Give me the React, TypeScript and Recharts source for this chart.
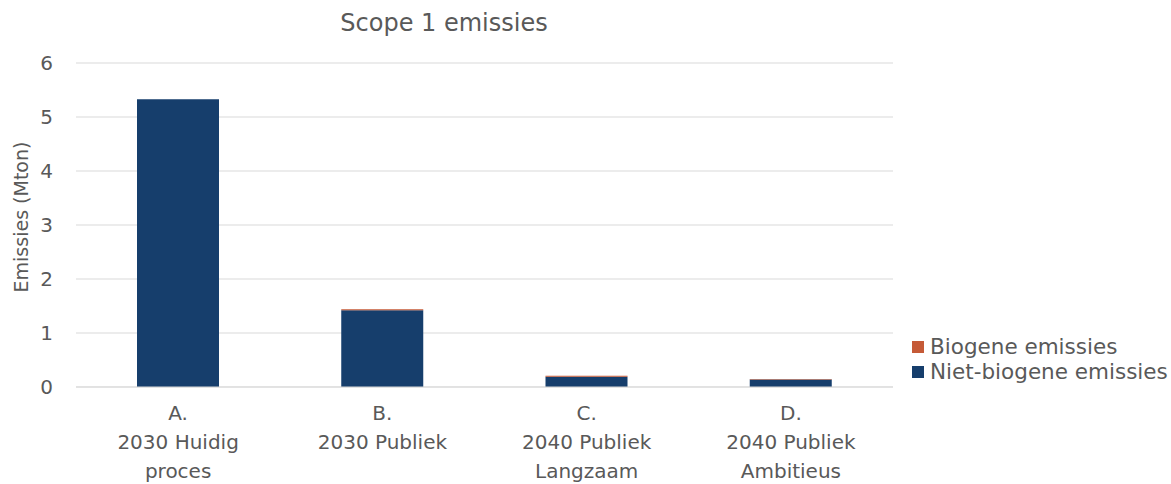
import React from 'react';
import { BarChart, Bar, XAxis, YAxis, CartesianGrid } from 'recharts';

const categories = ['A.\n2030 Huidig\nproces', 'B.\n2030 Publiek', 'C.\n2040 Publiek\nLangzaam', 'D.\n2040 Publiek\nAmbitieus'];
const nietBiogeen = [5.33, 1.42, 0.19, 0.14];
const biogeen = [0, 0.02, 0.02, 0.01];
const yTicks = [0, 1, 2, 3, 4, 5, 6];

const data = categories.map((name, i) => ({
  name,
  niet: nietBiogeen[i],
  bio: biogeen[i],
}));

const FONT = '"DejaVu Sans", sans-serif';
const GREY = '#595959';

const CategoryTick = (props: any) => {
  const { x, y, payload } = props;
  const lines = String(payload.value).split('\n');
  return (
    <text x={x} y={y} textAnchor="middle" fill={GREY} fontSize={20} fontFamily={FONT}>
      {lines.map((l, i) => (
        <tspan key={i} x={x} y={y + 25 + i * 29}>{l}</tspan>
      ))}
    </text>
  );
};

const legendItems = [
  { label: 'Biogene emissies', color: '#C55A37' },
  { label: 'Niet-biogene emissies', color: '#163E6C' },
];

export default function App() {
  return (
    <div style={{ position: 'absolute', left: 0, top: 0, width: 1171, height: 484, background: '#fff' }}>
      <div style={{ position: 'absolute', left: 0, width: 888, top: 9, textAlign: 'center', fontFamily: FONT, fontSize: 24, color: GREY }}>
        Scope 1 emissies
      </div>
      <BarChart width={1171} height={484} data={data} margin={{ top: 63, right: 278, bottom: 0, left: 0 }}>
        <CartesianGrid vertical={false} stroke="#d9d9d9" />
        <XAxis dataKey="name" height={97} tick={<CategoryTick />} tickLine={false} axisLine={{ stroke: '#d9d9d9' }} interval={0} />
        <YAxis
          width={76}
          domain={[0, 6]}
          ticks={yTicks}
          tickLine={false}
          axisLine={false}
          tick={{ fill: GREY, fontSize: 20, fontFamily: FONT }}
          tickMargin={17}
          label={{ value: 'Emissies (Mton)', angle: -90, position: 'insideLeft', dx: 16, dy: -8, style: { textAnchor: 'middle', fill: GREY, fontSize: 19, fontFamily: FONT } }}
        />
        <Bar dataKey="niet" stackId="s" fill="#163E6C" barSize={82} isAnimationActive={false} />
        <Bar dataKey="bio" stackId="s" fill="#C55A37" barSize={82} isAnimationActive={false} />
      </BarChart>
      <div style={{ position: 'absolute', left: 912, top: 334, fontFamily: FONT, fontSize: 21.5, color: GREY, lineHeight: '25px' }}>
        {legendItems.map((it) => (
          <div key={it.label} style={{ display: 'flex', alignItems: 'center', whiteSpace: 'nowrap' }}>
            <span style={{ width: 12, height: 12, background: it.color, marginRight: 6, display: 'inline-block' }} />
            {it.label}
          </div>
        ))}
      </div>
    </div>
  );
}
